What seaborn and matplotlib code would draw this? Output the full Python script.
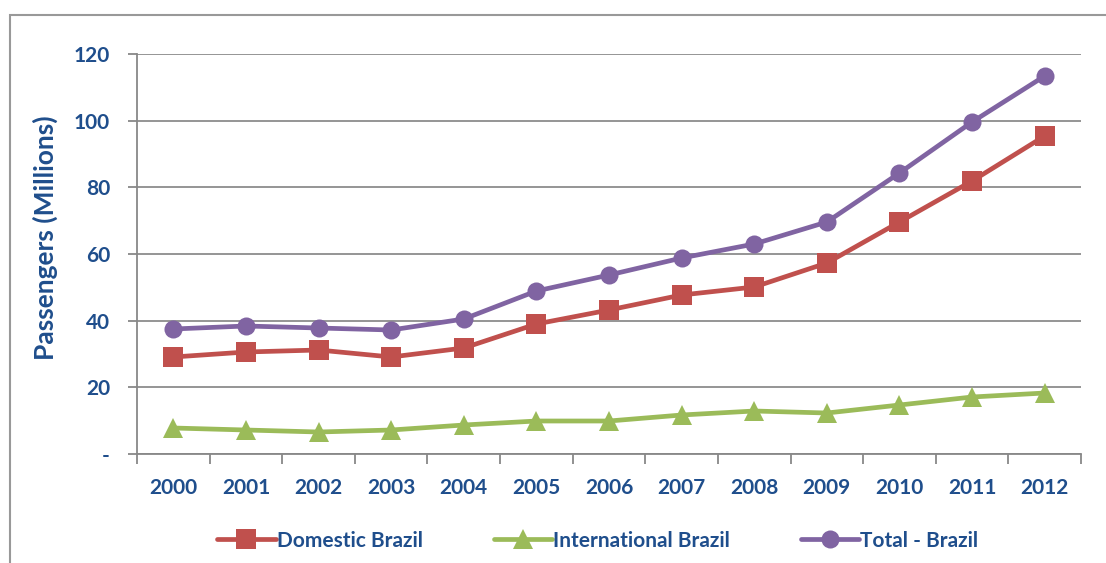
import numpy as np
import pandas as pd
import seaborn as sns
import matplotlib
matplotlib.use('Agg')
import matplotlib.pyplot as plt
from matplotlib.patches import Rectangle

years = ['2000', '2001', '2002', '2003', '2004', '2005', '2006',
         '2007', '2008', '2009', '2010', '2011', '2012']
domestic = [29.1, 30.6, 31.2, 29.1, 31.8, 39.0, 43.2, 47.7, 50.1, 57.3, 69.6, 81.9, 95.4]
international = [7.8, 7.2, 6.6, 7.2, 8.7, 9.9, 9.9, 11.7, 12.9, 12.3, 14.7, 17.1, 18.3]
total = [37.5, 38.4, 37.8, 37.2, 40.5, 48.9, 53.7, 58.8, 63.0, 69.6, 84.3, 99.6, 113.4]
series_names = ['Domestic Brazil', 'International Brazil', 'Total - Brazil']
y_ticks = [0, 20, 40, 60, 80, 100, 120]
y_tick_labels = ['-', '20', '40', '60', '80', '100', '120']

def main():
    sns.set_style('white')
    plt.rcParams['font.family'] = ['Lato', 'DejaVu Sans']
    text_col = '#1F4E8C'
    colors = {'Domestic Brazil': '#C0504D',
              'International Brazil': '#9BBB59',
              'Total - Brazil': '#8064A2'}
    markers = {'Domestic Brazil': 's',
               'International Brazil': '^',
               'Total - Brazil': 'o'}
    sizes = {'Domestic Brazil': 14, 'International Brazil': 14, 'Total - Brazil': 13}

    data = pd.DataFrame({
        'Year': years * 3,
        'Passengers': domestic + international + total,
        'Series': [series_names[0]] * len(years) + [series_names[1]] * len(years)
                  + [series_names[2]] * len(years),
    })
    data['x'] = data['Year'].map({y: i for i, y in enumerate(years)})

    fig = plt.figure(figsize=(11.06, 5.63), dpi=100)
    ax = fig.add_axes([0.1239, 0.1936, 0.8535, 0.7105])

    for name in series_names:
        d = data[data.Series == name]
        sns.lineplot(x='x', y='Passengers', data=d, color=colors[name],
                     marker=markers[name], markersize=sizes[name],
                     markeredgewidth=0, linewidth=3.4, label=name, ax=ax)

    ax.set_xlim(-0.5, len(years) - 0.5)
    ax.set_ylim(0, 120)
    ax.set_yticks(y_ticks)
    ax.set_yticklabels(y_tick_labels)
    ax.set_xticks(range(len(years)))
    ax.set_xticklabels(years)
    ax.set_xticks(np.arange(-0.5, len(years)), minor=True)
    ax.tick_params(axis='x', which='major', length=0, pad=17, labelsize=15,
                   labelcolor=text_col)
    ax.tick_params(axis='x', which='minor', length=7, width=1.3, color='#888888',
                   direction='out', bottom=True)
    ax.tick_params(axis='y', length=6.5, width=1.3, color='#888888', direction='out',
                   left=True, pad=13, labelsize=15, labelcolor=text_col)
    for lab in ax.get_xticklabels() + ax.get_yticklabels():
        lab.set_fontweight('bold')

    ax.grid(axis='y', color='#8C8C8C', linewidth=1.3)
    ax.set_axisbelow(True)
    for side in ['top', 'right']:
        ax.spines[side].set_visible(False)
    for side in ['left', 'bottom']:
        ax.spines[side].set_color('#888888')
        ax.spines[side].set_linewidth(1.3)

    ax.set_xlabel('')
    ax.set_ylabel('Passengers (Millions)', fontsize=19, fontweight='bold',
                  color=text_col)
    ax.yaxis.set_label_coords(-0.084, 0.54)

    leg = ax.legend(loc='upper center', bbox_to_anchor=(0.488, -0.145), ncol=3,
                    frameon=False, fontsize=15, handlelength=2.8,
                    columnspacing=3.4, handletextpad=0.05)
    for t in leg.get_texts():
        t.set_color(text_col)
        t.set_fontweight('bold')

    border = Rectangle((0.009, -0.1), 1.2, 0.9734 + 0.1, transform=fig.transFigure,
                       fill=False, edgecolor='#999999', linewidth=1.5, clip_on=False)
    fig.patches.append(border)

    plt.savefig('out.png', dpi=100)

if __name__ == '__main__':
    main()
